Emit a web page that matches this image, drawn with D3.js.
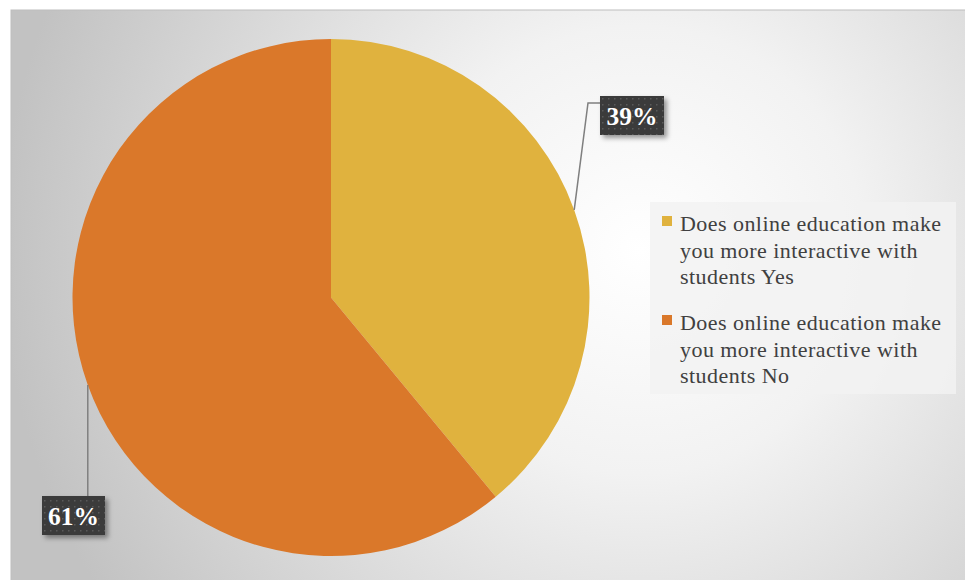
<!DOCTYPE html>
<html>
<head>
<meta charset="utf-8">
<script src="https://cdn.jsdelivr.net/npm/d3@7"></script>
<style>
  html, body { margin: 0; padding: 0; background: #ffffff; }
  svg { display: block; }
</style>
</head>
<body>
<svg id="chart" width="965" height="580"></svg>
<script>
// Survey answers and their shares
const categories = [
  "Does online education make you more interactive with students Yes",
  "Does online education make you more interactive with students No"
];
const shares = [39, 61];
const sliceColors = ["#E0B23E", "#DA782A"];
const legendLines = [
  ["Does online education make", "you more interactive with", "students Yes"],
  ["Does online education make", "you more interactive with", "students No"]
];

const svg = d3.select("#chart");
const defs = svg.append("defs");

// Chart area background: soft radial light over grey
const bg = defs.append("radialGradient")
  .attr("id", "bgGrad")
  .attr("gradientUnits", "userSpaceOnUse")
  .attr("cx", 640).attr("cy", 250).attr("r", 640);
bg.append("stop").attr("offset", "0%").attr("stop-color", "#ffffff");
bg.append("stop").attr("offset", "35%").attr("stop-color", "#f2f2f2");
bg.append("stop").attr("offset", "100%").attr("stop-color", "#c2c2c2");

// Dotted fill for the data label boxes
const pat = defs.append("pattern")
  .attr("id", "dots").attr("patternUnits", "userSpaceOnUse")
  .attr("width", 6).attr("height", 6);
pat.append("rect").attr("width", 6).attr("height", 6).attr("fill", "#3b3b3b");
pat.append("rect").attr("x", 2).attr("y", 2).attr("width", 1.5).attr("height", 1.5).attr("fill", "#5a5a5a");

const shadow = defs.append("filter").attr("id", "shadow")
  .attr("x", "-20%").attr("y", "-20%").attr("width", "150%").attr("height", "160%");
shadow.append("feDropShadow").attr("dx", 3).attr("dy", 3).attr("stdDeviation", 2.5)
  .attr("flood-color", "#000").attr("flood-opacity", 0.4);

svg.append("rect")
  .attr("x", 11).attr("y", 10).attr("width", 960).attr("height", 575)
  .attr("fill", "url(#bgGrad)").attr("stroke", "#bdbdbd").attr("stroke-width", 1);

// Pie
const cx = 331, cy = 297.5, radius = 258.5;
const pie = d3.pie().sort(null).value(d => d);
const arcs = pie(shares);
const arc = d3.arc().innerRadius(0).outerRadius(radius);

const g = svg.append("g").attr("transform", `translate(${cx},${cy})`);
g.selectAll("path.slice")
  .data(arcs)
  .join("path")
  .attr("class", "slice")
  .attr("d", arc)
  .attr("fill", (d, i) => sliceColors[i]);

// Leader lines start on the rim at each slice's mid-angle
const rimPoint = d => {
  const a = (d.startAngle + d.endAngle) / 2;
  return [Math.sin(a) * radius, -Math.cos(a) * radius];
};
const labelFont = "'Liberation Serif', 'DejaVu Serif', serif";
const boxes = [
  { x: 600, y: 96, w: 64, h: 39 },
  { x: 42, y: 496, w: 63, h: 39 }
];

// Yes: rim -> elbow -> box's left side
{
  const p = rimPoint(arcs[0]);
  const b = boxes[0];
  const ey = b.y + 7 - cy;
  g.append("path")
    .attr("d", d3.line()([p, [b.x - 12 - cx, ey], [b.x - cx, ey]]))
    .attr("fill", "none").attr("stroke", "#7f7f7f").attr("stroke-width", 1.5);
}
// No: rim straight down to the box's top
{
  const p = rimPoint(arcs[1]);
  const b = boxes[1];
  g.append("path")
    .attr("d", d3.line()([p, [p[0], b.y - cy]]))
    .attr("fill", "none").attr("stroke", "#7f7f7f").attr("stroke-width", 1.5);
}

boxes.forEach((b, i) => {
  svg.append("rect")
    .attr("x", b.x).attr("y", b.y).attr("width", b.w).attr("height", b.h)
    .attr("fill", "url(#dots)").attr("filter", "url(#shadow)");
  svg.append("text")
    .attr("x", b.x + b.w / 2).attr("y", b.y + b.h / 2 + 9)
    .attr("text-anchor", "middle")
    .attr("font-family", labelFont).attr("font-weight", "bold")
    .attr("font-size", 25.5).attr("fill", "#ffffff")
    .text(d3.format(".0%")(shares[i] / 100));
});

// Legend
const legend = svg.append("g");
legend.append("rect")
  .attr("x", 650).attr("y", 202).attr("width", 306).attr("height", 192)
  .attr("fill", "#f2f2f2").attr("fill-opacity", 0.85);

const lineH = 26.5;
legendLines.forEach((lines, i) => {
  const top = 225 + i * 99;
  legend.append("rect")
    .attr("x", 662).attr("y", top - 9).attr("width", 10).attr("height", 10)
    .attr("fill", sliceColors[i]);
  const t = legend.append("text")
    .attr("font-family", labelFont).attr("font-size", 22)
    .attr("letter-spacing", 0.45).attr("fill", "#404040");
  lines.forEach((ln, j) => {
    t.append("tspan").attr("x", 680).attr("y", top + 6 + j * lineH).text(ln);
  });
});
</script>
</body>
</html>
